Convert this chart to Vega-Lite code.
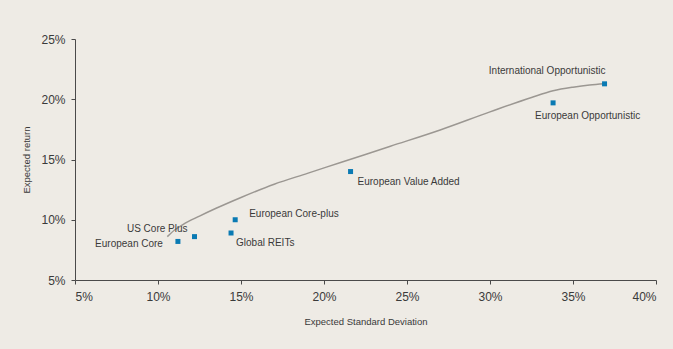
{
  "$schema": "https://vega.github.io/schema/vega-lite/v6.json",
  "width": 581,
  "height": 241,
  "autosize": {"type": "none"},
  "padding": {"left": 75, "top": 39, "right": 17, "bottom": 69},
  "background": "#eeebe5",
  "config": {
    "view": {"stroke": null},
    "font": "Liberation Sans",
    "axis": {
      "grid": false,
      "domainColor": "#4a4a4a",
      "tickColor": "#4a4a4a",
      "tickSize": 4,
      "labelFont": "Liberation Sans",
      "labelFontSize": 12,
      "labelColor": "#3a3a3a",
      "titleFont": "Liberation Sans",
      "titleFontSize": 9.5,
      "titleFontWeight": "normal",
      "titleColor": "#3a3a3a"
    },
    "text": {"font": "Liberation Sans", "fontSize": 10, "color": "#3a3a3a"}
  },
  "datasets": {
    "frontier": [
      {"sd": 10.56, "ret": 8.6},
      {"sd": 11.0, "ret": 9.15},
      {"sd": 11.5, "ret": 9.6},
      {"sd": 12.5, "ret": 10.3},
      {"sd": 13.5, "ret": 10.95},
      {"sd": 15.0, "ret": 11.85},
      {"sd": 17.0, "ret": 12.95},
      {"sd": 19.0, "ret": 13.85},
      {"sd": 21.0, "ret": 14.75},
      {"sd": 24.0, "ret": 16.1},
      {"sd": 27.0, "ret": 17.45},
      {"sd": 30.0, "ret": 18.95},
      {"sd": 32.5, "ret": 20.15},
      {"sd": 33.8, "ret": 20.7},
      {"sd": 35.0, "ret": 21.0},
      {"sd": 36.0, "ret": 21.18},
      {"sd": 36.9, "ret": 21.28}
    ],
    "strategies": [
      {"name": "European Core", "sd": 11.2, "ret": 8.2},
      {"name": "US Core Plus", "sd": 12.2, "ret": 8.6},
      {"name": "Global REITs", "sd": 14.4, "ret": 8.9},
      {"name": "European Core-plus", "sd": 14.65, "ret": 10.0},
      {"name": "European Value Added", "sd": 21.6, "ret": 14.0},
      {"name": "European Opportunistic", "sd": 33.8, "ret": 19.7},
      {"name": "International Opportunistic", "sd": 36.9, "ret": 21.28}
    ]
  },
  "encoding": {
    "x": {
      "field": "sd",
      "type": "quantitative",
      "scale": {"domain": [5, 40], "nice": false},
      "axis": {
        "title": "Expected Standard Deviation",
        "values": [5, 10, 15, 20, 25, 30, 35, 40],
        "labelExpr": "datum.value + '%'",
        "labelPadding": 7,
        "titlePadding": 14
      }
    },
    "y": {
      "field": "ret",
      "type": "quantitative",
      "scale": {"domain": [5, 25], "nice": false},
      "axis": {
        "title": "Expected return",
        "values": [5, 10, 15, 20, 25],
        "labelExpr": "datum.value + '%'",
        "labelPadding": 6,
        "titlePadding": 9
      }
    }
  },
  "layer": [
    {
      "data": {"name": "frontier"},
      "mark": {"type": "line", "interpolate": "monotone", "color": "#9b9792", "strokeWidth": 1.5}
    },
    {
      "data": {"name": "strategies"},
      "mark": {"type": "point", "shape": "square", "filled": true, "size": 25, "color": "#0a7ab3", "opacity": 1}
    },
    {
      "data": {"name": "strategies"},
      "transform": [{"filter": "datum.name === 'European Core'"}],
      "mark": {"type": "text", "align": "right", "baseline": "middle", "dx": -15, "dy": 3},
      "encoding": {"text": {"field": "name"}}
    },
    {
      "data": {"name": "strategies"},
      "transform": [{"filter": "datum.name === 'US Core Plus'"}],
      "mark": {"type": "text", "align": "right", "baseline": "middle", "dx": -7, "dy": -8},
      "encoding": {"text": {"field": "name"}}
    },
    {
      "data": {"name": "strategies"},
      "transform": [{"filter": "datum.name === 'Global REITs'"}],
      "mark": {"type": "text", "align": "left", "baseline": "middle", "dx": 5, "dy": 10},
      "encoding": {"text": {"field": "name"}}
    },
    {
      "data": {"name": "strategies"},
      "transform": [{"filter": "datum.name === 'European Core-plus'"}],
      "mark": {"type": "text", "align": "left", "baseline": "middle", "dx": 14, "dy": -6},
      "encoding": {"text": {"field": "name"}}
    },
    {
      "data": {"name": "strategies"},
      "transform": [{"filter": "datum.name === 'European Value Added'"}],
      "mark": {"type": "text", "align": "left", "baseline": "middle", "dx": 7, "dy": 10},
      "encoding": {"text": {"field": "name"}}
    },
    {
      "data": {"name": "strategies"},
      "transform": [{"filter": "datum.name === 'European Opportunistic'"}],
      "mark": {"type": "text", "align": "left", "baseline": "middle", "dx": -18, "dy": 13},
      "encoding": {"text": {"field": "name"}}
    },
    {
      "data": {"name": "strategies"},
      "transform": [{"filter": "datum.name === 'International Opportunistic'"}],
      "mark": {"type": "text", "align": "right", "baseline": "middle", "dx": 1, "dy": -13},
      "encoding": {"text": {"field": "name"}}
    }
  ]
}
